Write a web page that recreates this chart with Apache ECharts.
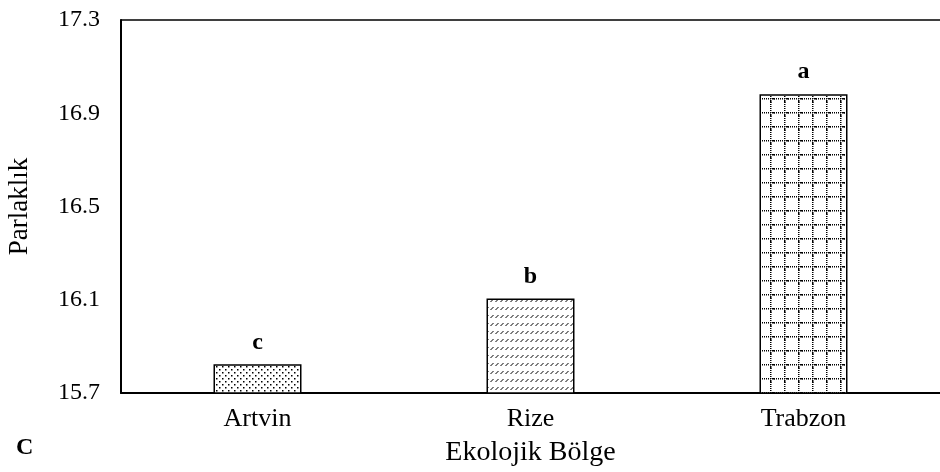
<!DOCTYPE html>
<html>
<head>
<meta charset="utf-8">
<script src="https://cdn.jsdelivr.net/npm/echarts@6/dist/echarts.min.js"></script>
<style>
  html, body { margin: 0; padding: 0; background: #fff; }
  #chart { width: 940px; height: 472px; }
</style>
</head>
<body>
<div id="chart"></div>
<script>
const regions = ["Artvin", "Rize", "Trabzon"];
const brightness = [15.823, 16.105, 16.982];
const groupLetters = ["c", "b", "a"];
const yTicks = [15.7, 16.1, 16.5, 16.9, 17.3];

// small hatch tiles, like the Excel pattern fills
function tile(w, h, paint) {
  const c = document.createElement("canvas");
  c.width = w;
  c.height = h;
  const ctx = c.getContext("2d");
  ctx.fillStyle = "#fff";
  ctx.fillRect(0, 0, w, h);
  ctx.fillStyle = "#000";
  ctx.strokeStyle = "#000";
  paint(ctx);
  return c;
}

const dots = tile(6, 6, ctx => {
  ctx.fillRect(0, 0, 1.5, 1.5);
  ctx.fillRect(3, 3, 1.5, 1.5);
});

const slashes = tile(5, 8, ctx => {
  ctx.lineWidth = 1;
  ctx.beginPath();
  ctx.moveTo(0.5, 6);
  ctx.lineTo(3.5, 3);
  ctx.stroke();
});

const squares = tile(14, 14, ctx => {
  for (let i = 0; i < 14; i += 2) {
    ctx.fillRect(i, 0, 1, 1.5);
    ctx.fillRect(0, i, 1.5, 1);
  }
  ctx.fillRect(3, 0, 2, 1.5);
  ctx.fillRect(0, 3, 1.5, 2);
});

const fills = [dots, slashes, squares];

const chart = echarts.init(document.getElementById("chart"));
const serif = "'Liberation Serif', 'Times New Roman', serif";

chart.setOption({
  animation: false,
  title: {
    text: "C",
    left: 11,
    top: 431,
    textStyle: { fontFamily: serif, fontSize: 24, fontWeight: "bold", color: "#000" }
  },
  grid: { left: 121, right: 0, top: 20, bottom: 79, outerBoundsMode: "none", containLabel: false },
  xAxis: [
    {
      type: "category",
      data: regions,
      name: "Ekolojik Bölge",
      nameLocation: "middle",
      nameGap: 46,
      nameTextStyle: { fontFamily: serif, fontSize: 28, color: "#000" },
      axisLine: { lineStyle: { color: "#000", width: 2 } },
      axisTick: { show: false },
      axisLabel: { fontFamily: serif, fontSize: 26, color: "#000", margin: 13 }
    },
    {
      type: "category",
      position: "top",
      data: regions,
      axisLine: { lineStyle: { color: "#000", width: 1.5 } },
      axisTick: { show: false },
      axisLabel: { show: false }
    }
  ],
  yAxis: {
    type: "value",
    min: 15.7,
    max: 17.3,
    interval: 0.1,
    name: "Parlaklık",
    nameLocation: "middle",
    nameGap: 88,
    nameTextStyle: { fontFamily: serif, fontSize: 27, color: "#000" },
    axisLine: { show: true, lineStyle: { color: "#000", width: 2 } },
    axisTick: { show: false },
    splitLine: { show: false },
    axisLabel: {
      fontFamily: serif,
      fontSize: 24,
      color: "#000",
      margin: 21,
      formatter: v => {
        const hit = yTicks.find(t => Math.abs(t - v) < 1e-6);
        return hit === undefined ? "" : hit.toFixed(1);
      }
    }
  },
  series: [
    {
      type: "bar",
      barWidth: 88,
      data: brightness.map((v, i) => ({
        value: v,
        itemStyle: {
          color: { image: fills[i], repeat: "repeat" },
          borderColor: "#000",
          borderWidth: 1.5
        }
      })),
      label: {
        show: true,
        position: "top",
        distance: 10,
        fontFamily: serif,
        fontSize: 24,
        fontWeight: "bold",
        color: "#000",
        formatter: p => groupLetters[p.dataIndex]
      }
    }
  ]
});
</script>
</body>
</html>
